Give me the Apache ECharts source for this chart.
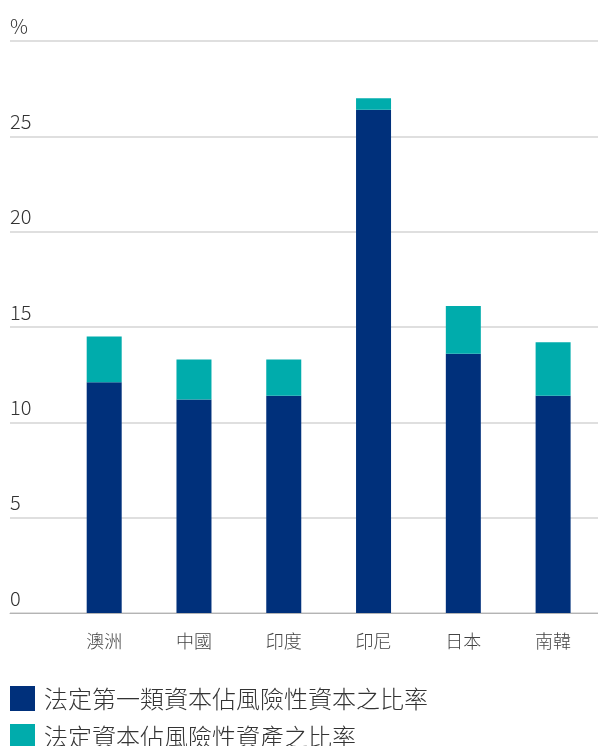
<!DOCTYPE html>
<html>
<head>
<meta charset="utf-8">
<script src="https://cdn.jsdelivr.net/npm/echarts@6/dist/echarts.min.js"></script>
<style>
html,body{margin:0;padding:0;background:#fff;}
#c{width:598px;height:746px;}
</style>
</head>
<body>
<div id="c"></div>
<script>
const categories = ['澳洲', '中國', '印度', '印尼', '日本', '南韓'];
const seriesNames = ['法定第一類資本佔風險性資本之比率', '法定資本佔風險性資產之比率'];
const tier1 = [12.1, 11.2, 11.4, 26.4, 13.6, 11.4];
const extra = [2.4, 2.1, 1.9, 0.6, 2.5, 2.8];
const yTicks = [0, 5, 10, 15, 20, 25, 30];
const yTopLabel = '%';

const FONT = '"Noto Sans CJK TC", "Noto Sans", sans-serif';
const legendText = {fontSize: 24, color: '#333', fontFamily: FONT, fontWeight: 300, padding: [0, 0, 0, 4]};
const chart = echarts.init(document.getElementById('c'), null, {renderer: 'canvas'});
chart.setOption({
  animation: false,
  backgroundColor: '#ffffff',
  textStyle: {fontFamily: FONT},
  grid: [
    {left: 10, right: 0, top: 41, bottom: 133, containLabel: false},
    {left: 59.3, right: -1.3, top: 41, bottom: 133, containLabel: false}
  ],
  xAxis: [
    {gridIndex: 0, type: 'value', min: 0, max: 1, show: true,
      axisLine: {show: true, lineStyle: {color: '#b4b4b4', width: 1}},
      axisTick: {show: false}, axisLabel: {show: false}, splitLine: {show: false}},
    {gridIndex: 1, type: 'category', data: categories,
      axisLine: {show: false}, axisTick: {show: false}, splitLine: {show: false},
      axisLabel: {margin: 19, fontSize: 18, color: '#444', fontFamily: FONT, fontWeight: 300}}
  ],
  yAxis: [
    {gridIndex: 0, type: 'value', min: yTicks[0], max: yTicks[yTicks.length - 1], interval: 5,
      axisLine: {show: false}, axisTick: {show: false},
      splitLine: {show: true, lineStyle: {color: '#d4d4d4', width: 1.5}},
      axisLabel: {inside: true, margin: 0, verticalAlign: 'bottom', padding: [0, 0, 5, 0],
        fontSize: 20, color: '#333', fontFamily: FONT, fontWeight: 300,
        formatter: function (v) { return v === yTicks[yTicks.length - 1] ? yTopLabel : String(v); }}},
    {gridIndex: 1, type: 'value', min: yTicks[0], max: yTicks[yTicks.length - 1], interval: 5, show: false,
      splitLine: {show: false}}
  ],
  legend: [
    {orient: 'vertical', left: 10, top: 686, padding: 0, itemWidth: 25, itemHeight: 25,
      icon: 'rect', selectedMode: false, textStyle: legendText, data: [seriesNames[0]]},
    {orient: 'vertical', left: 10, top: 724, padding: 0, itemWidth: 25, itemHeight: 25,
      icon: 'rect', selectedMode: false, textStyle: legendText, data: [seriesNames[1]]}
  ],
  series: [
    {name: seriesNames[0], type: 'bar', stack: 'a', xAxisIndex: 1, yAxisIndex: 1,
      barWidth: 35, data: tier1, itemStyle: {color: '#00307b'}},
    {name: seriesNames[1], type: 'bar', stack: 'a', xAxisIndex: 1, yAxisIndex: 1,
      barWidth: 35, data: extra, itemStyle: {color: '#00acac'}}
  ]
});
</script>
</body>
</html>
